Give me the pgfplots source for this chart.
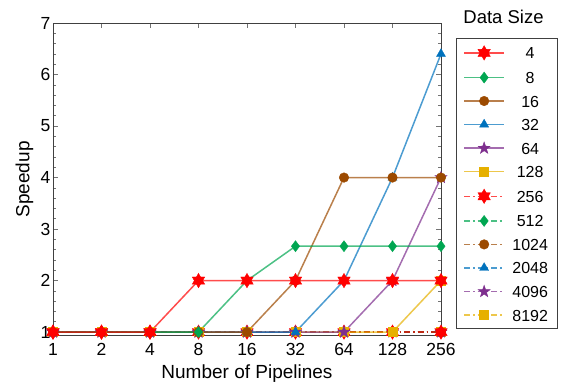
\documentclass[border=0pt]{standalone}
\usepackage{pgfplots}
\pgfplotsset{compat=1.18}
\usepackage{fontspec}
\setmainfont{Liberation Sans}

\definecolor{cred}{HTML}{FF0000}
\definecolor{cgreen}{HTML}{00A651}
\definecolor{cbrown}{HTML}{9C4A00}
\definecolor{cblue}{HTML}{0072BD}
\definecolor{cpurple}{HTML}{7E2F8E}
\definecolor{cyellow}{HTML}{E6B000}

\pgfdeclareplotmark{hexagram}{%
  \pgfpathmoveto{\pgfqpointpolar{90}{\pgfplotmarksize}}%
  \pgfpathlineto{\pgfqpointpolar{210}{\pgfplotmarksize}}%
  \pgfpathlineto{\pgfqpointpolar{330}{\pgfplotmarksize}}%
  \pgfpathclose
  \pgfpathmoveto{\pgfqpointpolar{270}{\pgfplotmarksize}}%
  \pgfpathlineto{\pgfqpointpolar{30}{\pgfplotmarksize}}%
  \pgfpathlineto{\pgfqpointpolar{150}{\pgfplotmarksize}}%
  \pgfpathclose
  \pgfusepathqfillstroke}
\pgfdeclareplotmark{pentagram}{%
  \pgfpathmoveto{\pgfpointpolar{90}{\pgfplotmarksize}}%
  \pgfpathlineto{\pgfpointpolar{126}{0.4\pgfplotmarksize}}%
  \pgfpathlineto{\pgfpointpolar{162}{\pgfplotmarksize}}%
  \pgfpathlineto{\pgfpointpolar{198}{0.4\pgfplotmarksize}}%
  \pgfpathlineto{\pgfpointpolar{234}{\pgfplotmarksize}}%
  \pgfpathlineto{\pgfpointpolar{270}{0.4\pgfplotmarksize}}%
  \pgfpathlineto{\pgfpointpolar{306}{\pgfplotmarksize}}%
  \pgfpathlineto{\pgfpointpolar{342}{0.4\pgfplotmarksize}}%
  \pgfpathlineto{\pgfpointpolar{18}{\pgfplotmarksize}}%
  \pgfpathlineto{\pgfpointpolar{54}{0.4\pgfplotmarksize}}%
  \pgfpathclose
  \pgfusepathqfillstroke}

\pgfplotsset{
  ser/.style n args={3}{#1, line width=1.5pt, draw opacity=0.7,
    mark=#2, mark size=#3,
    mark options={solid, fill=#1, draw=#1, draw opacity=1, line width=0.4pt}},
  dd/.style={dash pattern=on 6pt off 3pt on 1.5pt off 3pt},
}

\begin{document}
\begin{tikzpicture}
\path[use as bounding box] (-53pt,-45.3pt) rectangle (508pt,335.7pt);
\begin{axis}[
  at={(0,0)}, anchor=south west,
  scale only axis,
  width=388pt, height=312.7pt,
  xmin=0, xmax=8, ymin=0.93, ymax=7,
  xtick={0,1,2,3,4,5,6,7,8},
  xticklabels={1,2,4,8,16,32,64,128,256},
  ytick={1,2,3,4,5,6,7},
  minor y tick num=4,
  tick align=inside,
  major tick length=5pt, minor tick length=3pt,
  tick style={black!55, line width=0.6pt},
  axis line style={black!75, line width=0.8pt},
  /pgf/number format/assume math mode=true,
  tick label style={font=\fontsize{17.5}{17.5}\selectfont},
  xticklabel style={yshift=-4pt},
  yticklabel style={xshift=1pt},
  xlabel={Number of Pipelines},
  ylabel={Speedup},
  label style={font=\fontsize{19}{19}\selectfont},
  xlabel style={at={(axis description cs:0.5,-0.136)}, anchor=base},
  ylabel style={at={(axis description cs:-0.0606,0.5)}, anchor=base},
  clip=false,
  reverse legend,
  legend image code/.code={\draw[mark repeat=2,mark phase=2,#1] plot coordinates {(0pt,0pt) (20pt,0pt) (40pt,0pt)};},
  legend style={at={(axis description cs:1,1)}, anchor=north west,
    xshift=15pt, yshift=-15.3pt,
    draw=black!75, line width=0.8pt,
    inner sep=7pt, row sep=11.45pt,
    font=\fontsize{16}{16}\selectfont,
    nodes={inner sep=0pt, text height=12pt, text depth=0pt},
    /tikz/every odd column/.append style={column sep=5.3pt}},
  legend cell align=left,
]
% plotted in reverse order so that the smallest data size is on top
\addplot[ser={cyellow}{square*}{4.5}, dd] coordinates {(0,1)(1,1)(2,1)(3,1)(4,1)(5,1)(6,1)(7,1)(8,1)};
\addlegendentry{\makebox[40pt]{8192}}
\addplot[ser={cpurple}{pentagram}{6.3}, dd] coordinates {(0,1)(1,1)(2,1)(3,1)(4,1)(5,1)(6,1)(7,1)(8,1)};
\addlegendentry{\makebox[40pt]{4096}}
\addplot[ser={cblue}{triangle*}{5.2}, dd] coordinates {(0,1)(1,1)(2,1)(3,1)(4,1)(5,1)(6,1)(7,1)(8,1)};
\addlegendentry{\makebox[40pt]{2048}}
\addplot[ser={cbrown}{*}{4.8}, dd] coordinates {(0,1)(1,1)(2,1)(3,1)(4,1)(5,1)(6,1)(7,1)(8,1)};
\addlegendentry{\makebox[40pt]{1024}}
\addplot[ser={cgreen}{diamond*}{5.5}, dd] coordinates {(0,1)(1,1)(2,1)(3,1)(4,1)(5,1)(6,1)(7,1)(8,1)};
\addlegendentry{\makebox[40pt]{512}}
\addplot[ser={cred}{hexagram}{7.2}, dd] coordinates {(0,1)(1,1)(2,1)(3,1)(4,1)(5,1)(6,1)(7,1)(8,1)};
\addlegendentry{\makebox[40pt]{256}}
\addplot[ser={cyellow}{square*}{4.5}] coordinates {(0,1)(1,1)(2,1)(3,1)(4,1)(5,1)(6,1)(7,1)(8,2)};
\addlegendentry{\makebox[40pt]{128}}
\addplot[ser={cpurple}{pentagram}{6.3}] coordinates {(0,1)(1,1)(2,1)(3,1)(4,1)(5,1)(6,1)(7,2)(8,4)};
\addlegendentry{\makebox[40pt]{64}}
\addplot[ser={cblue}{triangle*}{5.2}] coordinates {(0,1)(1,1)(2,1)(3,1)(4,1)(5,1)(6,2)(7,4)(8,6.4)};
\addlegendentry{\makebox[40pt]{32}}
\addplot[ser={cbrown}{*}{4.8}] coordinates {(0,1)(1,1)(2,1)(3,1)(4,1)(5,2)(6,4)(7,4)(8,4)};
\addlegendentry{\makebox[40pt]{16}}
\addplot[ser={cgreen}{diamond*}{5.5}] coordinates {(0,1)(1,1)(2,1)(3,1)(4,2)(5,2.667)(6,2.667)(7,2.667)(8,2.667)};
\addlegendentry{\makebox[40pt]{8}}
\addplot[ser={cred}{hexagram}{7.2}] coordinates {(0,1)(1,1)(2,1)(3,2)(4,2)(5,2)(6,2)(7,2)(8,2)};
\addlegendentry{\makebox[40pt]{4}}
\end{axis}
\node[anchor=base, font=\fontsize{18.5}{18.5}\selectfont] at (450.5pt,311.7pt) {Data Size};
\end{tikzpicture}
\end{document}
